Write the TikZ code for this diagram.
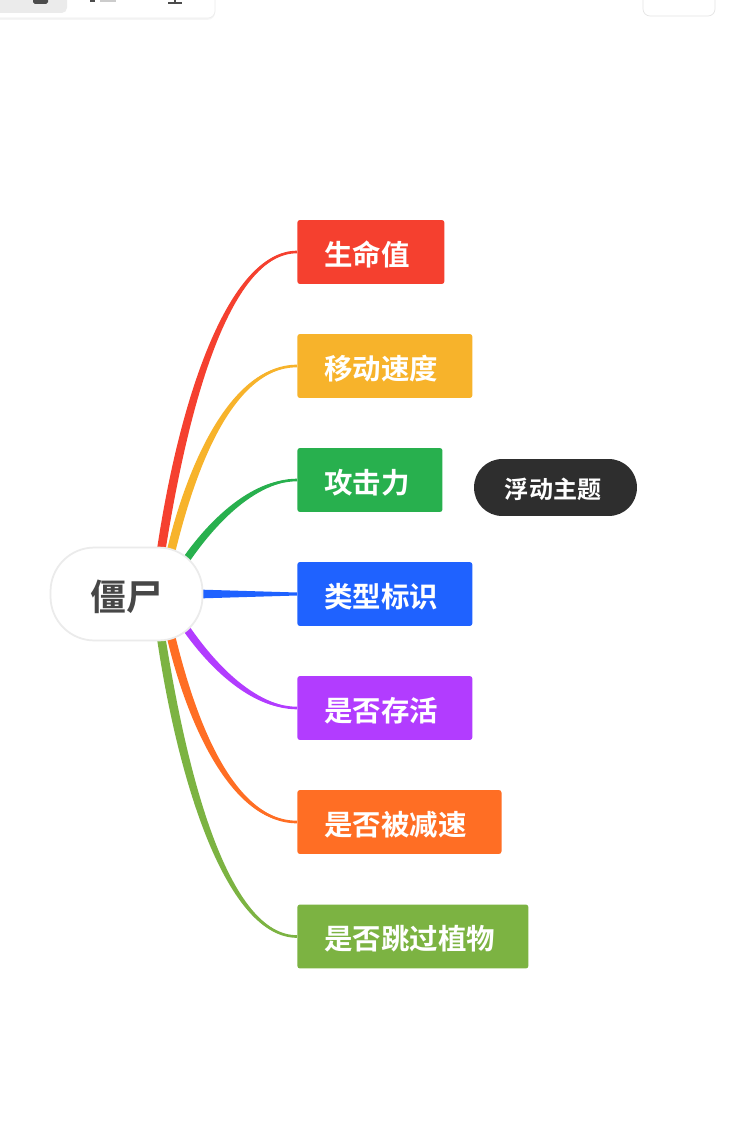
\documentclass[tikz,border=0pt]{standalone}
\usepackage{fontspec}
\newfontfamily\cjk[BoldFont={Noto Sans CJK SC Bold}]{Noto Sans CJK SC}
\usetikzlibrary{calc,backgrounds,shadows}
\definecolor{zred}{HTML}{F5402F}
\definecolor{zyellow}{HTML}{F7B32B}
\definecolor{zgreen}{HTML}{28B04E}
\definecolor{zblue}{HTML}{1F62FF}
\definecolor{zpurple}{HTML}{B23CFF}
\definecolor{zorange}{HTML}{FF6E24}
\definecolor{zlime}{HTML}{7CB342}
\tikzset{
	topic/.style={
			anchor=west, rounded corners=1.5pt, minimum height=36.4pt, inner xsep=15.4pt, inner ysep=0pt,
			text height=15pt, text depth=0.2pt,
			align=left, text=white, font=\cjk\bfseries\fontsize{16.2}{18}\selectfont
		},
	toolbox/.style={
			fill=white, draw=black!7, rounded corners=4pt
		}
}
% tapered branch: node, colour, start offset, first control, second control offset, side
\newcommand{\limb}[7]{
	\fill[#2] ($(root.center)+(#3-4,0)$) .. controls (#4-6,#5) and ($(#1.west)+(#6,-4*#7)$) .. (#1.west)
		.. controls ($(#1.west)+(#6,4*#7)$) and (#4+6,#5) .. ($(root.center)+(#3+4,0)$) -- cycle;
	\draw[#2, line width=1.5pt] ($(root.center)+(#3,0)$) .. controls (#4,#5) and ($(#1.west)+(#6,0)$) .. (#1.west);
}

\begin{document}
\begin{tikzpicture}[x=0.02cm, y=-0.02cm]
		\useasboundingbox (0, 0) rectangle (733, 1142);

		% cut off toolbars
		\path[clip] (0, 0) rectangle (733, 1142);
		\draw[toolbox, drop shadow={opacity=0.08, shadow xshift=0pt, shadow yshift=-1pt}] (-20, -30) rectangle (215, 18);
		\fill[black!8, rounded corners=3pt] (-20, -20) rectangle (67, 13);
		\fill[black!70, rounded corners=1pt] (33, -5) rectangle (48, 4);
		\fill[black!70] (90, -3) rectangle (95, 2);
		\fill[black!20] (100, -3) rectangle (116, 2);
		\fill[black!70] (168, 2) rectangle (182, 4);
		\fill[black!70] (174, -3) rectangle (176, 2);
		\draw[toolbox, draw=black!10] (643, -30) rectangle (715, 16);

		\node[draw=black!8, line width=1pt, fill=white, rounded corners=25pt, minimum width=86.5pt, minimum height=52.9pt, inner sep=0pt,
			text height=20pt, text depth=1pt,
			text=black!72, font=\cjk\bfseries\fontsize{20.5}{22}\selectfont] (root) at (126.5, 594) {僵尸};

		\node[topic, fill=zred, text width=52.9pt] (life) at (297, 252) {生命值};
		\node[topic, fill=zyellow, text width=68.8pt] (move) at (297, 366) {移动速度};
		\node[topic, fill=zgreen, text width=51.8pt] (attack) at (297, 480) {攻击力};
		\node[topic, fill=zblue, text width=68.8pt] (kind) at (297, 594) {类型标识};
		\node[topic, fill=zpurple, text width=68.8pt] (alive) at (297, 708) {是否存活};
		\node[topic, fill=zorange, text width=85.4pt] (slow) at (297, 822) {是否被减速};
		\node[topic, fill=zlime, text width=100.7pt] (jump) at (297, 936.5) {是否跳过植物};

		\node[fill=black!82, rounded corners=16pt, minimum height=32.4pt, inner xsep=17.6pt, inner ysep=0pt, text width=57.5pt, align=left,
			text height=13pt, text depth=0.2pt,
			text=white, font=\cjk\bfseries\fontsize{13.7}{15}\selectfont] (float) at (555.5, 487.5) {浮动主题};

		\begin{scope}[on background layer]
			\fill[white] (0, 0) rectangle (733, 1142);
			\limb{life}{zred}{28.5}{180}{400}{-67}{1}
			\limb{move}{zyellow}{35.5}{183}{480}{-69}{1}
			\limb{attack}{zgreen}{38.5}{200}{530}{-47}{1}
			\fill[zblue] ($(root.center)+(70,-4.5)$) -- ($(kind.west)+(0,-1.5)$) -- ($(kind.west)+(0,1.5)$) -- ($(root.center)+(70,4.5)$) -- cycle;
			\limb{alive}{zpurple}{38.5}{200}{658}{-47}{-1}
			\limb{slow}{zorange}{35.5}{183}{708}{-69}{-1}
			\limb{jump}{zlime}{28.5}{180}{788}{-67}{-1}
		\end{scope}
	\end{tikzpicture}
\end{document}
